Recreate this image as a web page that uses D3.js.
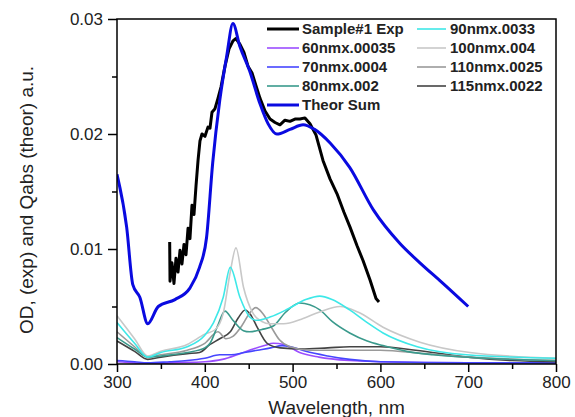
<!DOCTYPE html>
<html>
<head>
<meta charset="utf-8">
<script src="https://cdn.jsdelivr.net/npm/d3@7"></script>
<style>
  body { margin: 0; background: #fff; }
  svg { display: block; font-family: "Liberation Sans", Arial, sans-serif; }
</style>
</head>
<body>
<script>
// measured spectrum (noisy) [wavelength nm, OD]
var expData = [[360,0.0106],[360.4,0.0072],[362.6,0.0088],[364.9,0.0070],[367.2,0.0092],[369.5,0.0080],
  [371.8,0.0099],[374,0.0087],[376.3,0.0104],[378.6,0.0095],[380.9,0.0118],[383.1,0.0109],[385.4,0.0138],
  [387.7,0.0130],[390,0.0155],[392.3,0.0177],[394.5,0.0194],[396.8,0.0200],[400.2,0.0198],[403.6,0.0206],
  [405.9,0.0205],[408.2,0.0219],[411.6,0.0222],[415,0.0231],[418.5,0.0241],[423,0.0259],[427.6,0.0274],
  [432.1,0.0281],[435.5,0.0283],[440.1,0.0278],[444.6,0.0271],[449.2,0.0259],[453.8,0.0253],[458.3,0.0242],
  [462.9,0.0231],[468.6,0.0220],[474.3,0.0213],[480,0.0210],[485.6,0.0208],[491.3,0.0212],[497,0.0211],
  [502.7,0.0213],[508.4,0.0213],[514.1,0.0214],[519.8,0.0209],[526.7,0.0199],[534.6,0.0177],[542.6,0.0161],
  [550.6,0.0148],[558.5,0.0132],[565.4,0.0119],[573.3,0.0103],[580.2,0.0090],[588.2,0.0073],[595,0.0057],
  [598.4,0.0054]];

var sumData = [[300,0.0165],[311,0.0119],[318,0.0069],[326,0.0058],[335,0.0035],[347,0.0050],[366,0.0056],
  [383,0.0066],[394,0.0084],[402,0.0110],[409,0.0175],[417,0.0229],[425,0.0268],[432,0.0296],[440,0.0276],
  [451,0.0255],[463,0.0226],[472,0.0209],[482,0.0200],[497,0.0204],[512,0.0208],[525,0.0204],[543,0.0192],
  [565,0.0171],[592,0.0134],[622,0.0105],[645,0.0088],[670,0.0071],[700,0.0050]];

var c60 = [[300,0.0002],[320,0.0001],[335,0.0000],[360,0.0001],[400,0.0002],[420,0.0004],[440,0.0009],
  [455,0.0013],[468,0.0016],[478,0.0018],[490,0.0017],[508,0.0010],[530,0.0006],[565,0.0003],[600,0.0002],
  [700,0.0001],[800,0.0001]];
var c70 = [[300,0.0003],[320,0.0002],[335,0.0001],[360,0.0002],[380,0.0003],[400,0.0005],[417,0.0008],
  [430,0.0008],[445,0.0010],[460,0.0012],[475,0.0014],[488,0.0016],[498,0.0015],[515,0.0011],[540,0.0007],
  [565,0.0004],[600,0.0002],[700,0.0001],[800,0.0001]];
var c80 = [[300,0.0023],[320,0.0013],[335,0.0006],[350,0.0007],[380,0.0010],[400,0.0014],[406,0.0018],
  [414,0.0032],[423,0.0046],[432,0.0038],[444,0.0029],[451,0.0028],[465,0.0030],[478,0.0033],[492,0.0045],
  [508,0.0053],[531,0.0047],[545,0.0037],[565,0.0027],[585,0.0020],[603,0.0016],[630,0.0011],[660,0.0008],
  [720,0.0005],[800,0.0003]];
var c90 = [[300,0.0036],[320,0.0018],[335,0.0006],[350,0.0010],[380,0.0015],[400,0.0025],[410,0.0036],
  [421,0.0058],[429,0.0084],[440,0.0058],[451,0.0041],[459,0.0038],[475,0.0041],[495,0.0048],[515,0.0056],
  [531,0.0059],[545,0.0056],[565,0.0047],[585,0.0036],[603,0.0027],[642,0.0015],[698,0.0008],[800,0.0005]];
var c100 = [[300,0.0042],[320,0.0022],[335,0.0007],[350,0.0011],[380,0.0017],[400,0.0026],[412,0.0030],
  [421,0.0044],[429,0.0080],[435.5,0.0101],[444,0.0067],[455,0.0044],[465,0.0037],[474,0.0035],[490,0.0035],
  [510,0.0039],[530,0.0045],[554,0.0050],[575,0.0045],[603,0.0032],[645,0.0019],[702,0.0010],[800,0.0005]];
var c110 = [[300,0.0028],[320,0.0015],[335,0.0006],[350,0.0008],[380,0.0012],[400,0.0018],[415,0.0028],
  [424,0.0022],[432,0.0024],[442,0.0033],[450,0.0043],[458,0.0049],[466,0.0044],[475,0.0033],[485,0.0021],
  [497,0.0015],[520,0.0012],[560,0.0012],[600,0.0012],[650,0.0009],[700,0.0006],[800,0.0003]];
var c115 = [[300,0.0020],[320,0.0011],[335,0.0004],[350,0.0006],[380,0.0009],[394,0.0010],[406,0.0017],
  [417,0.0022],[429,0.0028],[438,0.0040],[446,0.0047],[452,0.0043],[459,0.0033],[471,0.0018],[486,0.0014],
  [510,0.0013],[540,0.0014],[565,0.0015],[600,0.0015],[640,0.0012],[700,0.0006],[750,0.0003],[800,0.0002]];

var xTicks = [300, 400, 500, 600, 700, 800];
var yTicks = [0, 0.01, 0.02, 0.03];

var series = [
  { name: '60nmx.00035', data: c60, color: '#9b4dff', w: 1.6 },
  { name: '70nmx.0004', data: c70, color: '#4646ff', w: 1.6 },
  { name: '115nmx.0022', data: c115, color: '#444444', w: 1.6 },
  { name: '110nmx.0025', data: c110, color: '#9a9a9a', w: 1.6 },
  { name: '80nmx.002', data: c80, color: '#3a9a8c', w: 1.6 },
  { name: '100nmx.004', data: c100, color: '#c8c8c8', w: 1.6 },
  { name: '90nmx.0033', data: c90, color: '#3ee8e8', w: 1.6 }
];

var legendCol1 = [
  { name: 'Sample#1 Exp', color: '#000', w: 3 },
  { name: '60nmx.00035', color: '#9b4dff', w: 1.6 },
  { name: '70nmx.0004', color: '#4646ff', w: 1.6 },
  { name: '80nmx.002', color: '#3a9a8c', w: 1.6 },
  { name: 'Theor Sum', color: '#0a0ae0', w: 3 }
];
var legendCol2 = [
  { name: '90nmx.0033', color: '#3ee8e8', w: 1.6 },
  { name: '100nmx.004', color: '#c8c8c8', w: 1.6 },
  { name: '110nmx.0025', color: '#9a9a9a', w: 1.6 },
  { name: '115nmx.0022', color: '#444444', w: 1.6 }
];

var W = 575, H = 417;
var margin = { top: 19, right: 19, bottom: 53, left: 117 };
var width = W - margin.left - margin.right;
var height = H - margin.top - margin.bottom;

var svg = d3.select('body').append('svg').attr('width', W).attr('height', H);
var g = svg.append('g').attr('transform', 'translate(' + margin.left + ',' + margin.top + ')');

var x = d3.scaleLinear().domain([300, 800]).range([0, width]);
var y = d3.scaleLinear().domain([0, 0.03]).range([height, 0]);

var smooth = d3.line().x(function (d) { return x(d[0]); }).y(function (d) { return y(d[1]); })
  .curve(d3.curveMonotoneX);
var straight = d3.line().x(function (d) { return x(d[0]); }).y(function (d) { return y(d[1]); });

var clip = g.append('clipPath').attr('id', 'clip').append('rect')
  .attr('width', width).attr('height', height);
var plot = g.append('g').attr('clip-path', 'url(#clip)');

series.forEach(function (s) {
  plot.append('path').attr('d', smooth(s.data)).attr('fill', 'none')
    .attr('stroke', s.color).attr('stroke-width', s.w).attr('stroke-linejoin', 'round');
});
plot.append('path').attr('d', straight(expData)).attr('fill', 'none')
  .attr('stroke', '#000').attr('stroke-width', 3).attr('stroke-linejoin', 'round');
plot.append('path').attr('d', smooth(sumData)).attr('fill', 'none')
  .attr('stroke', '#0a0ae0').attr('stroke-width', 3).attr('stroke-linejoin', 'round');

// frame
g.append('rect').attr('width', width).attr('height', height)
  .attr('fill', 'none').attr('stroke', '#000').attr('stroke-width', 1.5);

// axes
var xAxis = g.append('g').attr('transform', 'translate(0,' + height + ')');
xAxis.call(d3.axisBottom(x).tickValues(d3.range(300, 801, 50)).tickSize(5).tickFormat(''));
xAxis.call(function (a) {
  a.selectAll('.tick').filter(function (d) { return d % 100 === 0; }).select('line').attr('y2', 8);
});
var xLab = g.append('g').attr('transform', 'translate(0,' + height + ')')
  .call(d3.axisBottom(x).tickValues(xTicks).tickSize(0).tickPadding(24).tickFormat(d3.format('d')));

var yAxis = g.append('g');
yAxis.call(d3.axisLeft(y).tickValues(d3.range(0, 0.0301, 0.005)).tickSize(5).tickFormat(''));
yAxis.call(function (a) {
  a.selectAll('.tick').filter(function (d) { return Math.abs(Math.round(d * 100) - d * 100) < 1e-6; })
    .select('line').attr('x2', -9);
});
var yLab = g.append('g')
  .call(d3.axisLeft(y).tickValues(yTicks).tickSize(0).tickPadding(14).tickFormat(d3.format('.2f')));

d3.selectAll('.domain').remove();
d3.selectAll('.tick line').style('stroke', '#000').style('stroke-width', 1.5);
xLab.selectAll('text').style('font-size', '17px').style('fill', '#222').attr('dy', '0');
xLab.selectAll('text').attr('y', 24);
yLab.selectAll('text').style('font-size', '17px').style('fill', '#222');

svg.append('text').attr('x', margin.left + width / 2).attr('y', 414)
  .attr('text-anchor', 'middle').style('font-size', '19px').style('fill', '#222')
  .text('Wavelength, nm');
svg.append('text').attr('transform', 'translate(33,' + 200 + ') rotate(-90)')
  .attr('text-anchor', 'middle').style('font-size', '19px').style('fill', '#222')
  .text('OD, (exp) and Qabs (theor) a.u.');

// legend
function drawLegend(items, x1, x2, tx) {
  items.forEach(function (it, i) {
    var yy = 29 + i * 19;
    svg.append('line').attr('x1', x1).attr('x2', x2).attr('y1', yy).attr('y2', yy)
      .attr('stroke', it.color).attr('stroke-width', it.w);
    svg.append('text').attr('x', tx).attr('y', yy + 5).style('font-size', '15px')
      .style('font-weight', 'bold').style('fill', '#222').text(it.name);
  });
}
drawLegend(legendCol1, 267, 299, 302);
drawLegend(legendCol2, 417, 446, 450);
</script>
</body>
</html>
